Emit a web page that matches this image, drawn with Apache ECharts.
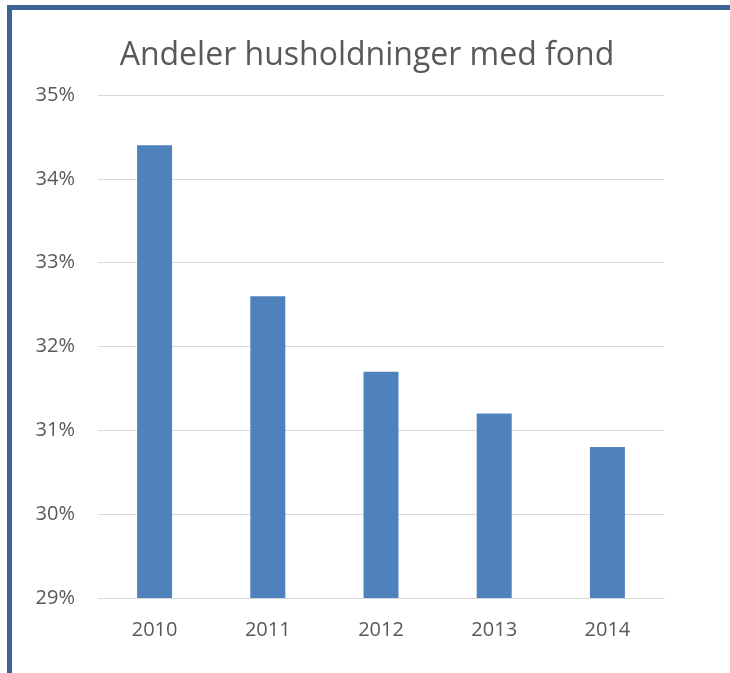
<!DOCTYPE html>
<html>
<head>
<meta charset="utf-8">
<script src="https://cdn.jsdelivr.net/npm/echarts@6/dist/echarts.min.js"></script>
<style>
  html, body { margin: 0; padding: 0; background: #fff; }
  #frame {
    position: absolute; left: 7px; top: 5px; width: 730px; height: 680px;
    border-left: 5px solid #3d6495; border-top: 5px solid #3d6495;
  }
  #chart { position: absolute; left: 0; top: 0; width: 730px; height: 673px; }
</style>
</head>
<body>
<div id="frame"></div>
<div id="chart"></div>
<script>
var years = ['2010', '2011', '2012', '2013', '2014']
var shares = [34.4, 32.6, 31.7, 31.2, 30.8]

var chart = echarts.init(document.getElementById('chart'))
chart.setOption({
  backgroundColor: 'transparent',
  title: {
    text: 'Andeler husholdninger med fond',
    left: 362,
    textAlign: 'center',
    top: 35,
    textStyle: {
      fontFamily: 'Open Sans',
      fontSize: 32,
      fontWeight: 'normal',
      color: '#595959'
    }
  },
  grid: {
    left: 98,
    right: 66,
    top: 95,
    bottom: 75
  },
  xAxis: {
    type: 'category',
    data: years,
    axisLine: { lineStyle: { color: '#d9d9d9', width: 1 } },
    axisTick: { show: false },
    axisLabel: {
      color: '#595959',
      fontFamily: 'Open Sans',
      fontSize: 20,
      margin: 22
    }
  },
  yAxis: {
    type: 'value',
    min: 29,
    max: 35,
    interval: 1,
    axisLine: { show: false },
    axisTick: { show: false },
    axisLabel: {
      color: '#595959',
      fontFamily: 'Open Sans',
      fontSize: 20,
      margin: 23,
      formatter: function (v) { return v + '%' }
    },
    splitLine: { lineStyle: { color: '#d9d9d9', width: 1 } }
  },
  series: [{
    type: 'bar',
    data: shares,
    barWidth: 35,
    itemStyle: { color: '#4f81bd' },
    animation: false
  }]
})
</script>
</body>
</html>
